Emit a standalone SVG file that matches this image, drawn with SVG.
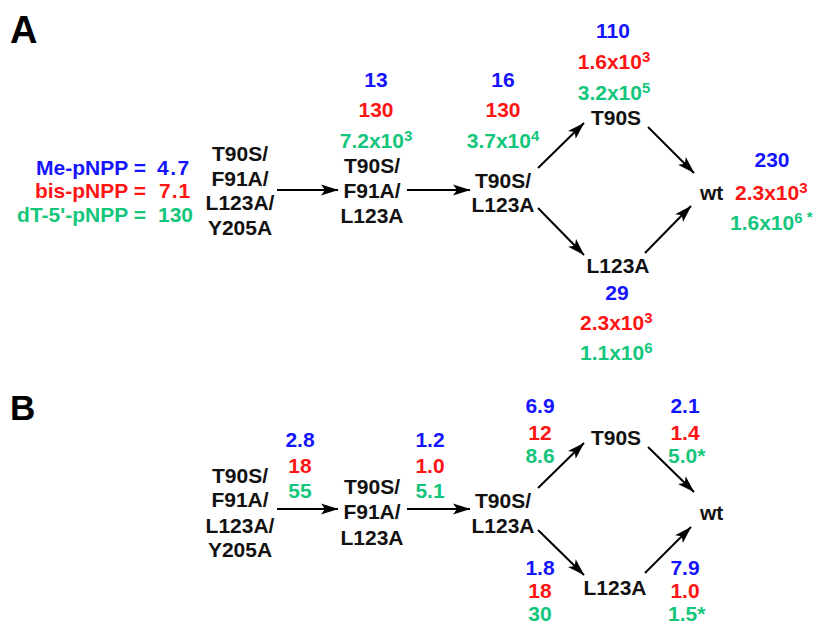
<svg xmlns="http://www.w3.org/2000/svg" width="815" height="625" viewBox="0 0 815 625">
<style>
text{font-family:"Liberation Sans",Arial,Helvetica,sans-serif;font-weight:bold;font-size:21px;fill:#111}
.m{text-anchor:middle}
.e{text-anchor:end}
.b{fill:#1414ff}
.r{fill:#ff1414}
.g{fill:#14c67c}
.sup{font-size:15px}
.lbl{font-size:38px;fill:#000}
.arr{stroke:#000;stroke-width:2;fill:none;marker-end:url(#ah)}
</style>
<defs>
<marker id="ah" markerUnits="userSpaceOnUse" viewBox="-18 -6 19 12" markerWidth="19" markerHeight="12" refX="0" refY="0" orient="auto">
<path d="M0.5,0 L-17,-5.5 L-13,0 L-17,5.5 Z" fill="#000"/>
</marker>
</defs>
<rect width="815" height="625" fill="#fff"/>

<g id="panelA-label"><text class="lbl" x="10" y="43">A</text></g>
<g id="panelB-label"><text class="lbl" x="10" y="420" style="font-size:35px">B</text></g>

<g id="legend">
<text class="b e" x="146" y="175">Me-pNPP =</text>
<text class="b" x="157" y="175" letter-spacing="1.5">4.7</text>
<text class="r e" x="146" y="198">bis-pNPP =</text>
<text class="r" x="159" y="198" letter-spacing="1">7.1</text>
<text class="g e" x="146" y="222">dT-5'-pNPP =</text>
<text class="g" x="158" y="222">130</text>
</g>

<!-- Panel A nodes -->
<g id="A-TFLY">
<text class="m" x="240" y="161">T90S/</text>
<text class="m" x="240" y="186">F91A/</text>
<text class="m" x="240" y="210">L123A/</text>
<text class="m" x="240" y="235">Y205A</text>
</g>
<g id="A-TFL">
<text class="b m" x="376" y="87">13</text>
<text class="r m" x="376" y="117">130</text>
<text class="g m" x="376" y="148">7.2x10<tspan class="sup" dy="-7">3</tspan></text>
<text class="m" x="372" y="173">T90S/</text>
<text class="m" x="372" y="198">F91A/</text>
<text class="m" x="372" y="223">L123A</text>
</g>
<g id="A-TL">
<text class="b m" x="503" y="87">16</text>
<text class="r m" x="503" y="117">130</text>
<text class="g m" x="503" y="148">3.7x10<tspan class="sup" dy="-7">4</tspan></text>
<text class="m" x="503" y="188">T90S/</text>
<text class="m" x="503" y="212">L123A</text>
</g>
<g id="A-T90S">
<text class="b m" x="613" y="38">110</text>
<text class="r m" x="614" y="69">1.6x10<tspan class="sup" dy="-7">3</tspan></text>
<text class="g m" x="614" y="100">3.2x10<tspan class="sup" dy="-7">5</tspan></text>
<text class="m" x="616" y="125">T90S</text>
</g>
<g id="A-L123A">
<text class="m" x="618" y="273">L123A</text>
<text class="b m" x="617" y="300">29</text>
<text class="r" x="580" y="330">2.3x10<tspan class="sup" dy="-7">3</tspan></text>
<text class="g" x="580" y="360">1.1x10<tspan class="sup" dy="-7">6</tspan></text>
</g>
<g id="A-wt">
<text x="700" y="200">wt</text>
<text class="b m" x="772" y="167">230</text>
<text class="r" x="735" y="200">2.3x10<tspan class="sup" dy="-7">3</tspan></text>
<text class="g" x="730" y="230">1.6x10<tspan class="sup" dy="-7">6</tspan><tspan class="sup" dy="-1"> *</tspan></text>
</g>

<!-- Panel B nodes -->
<g id="B-TFLY">
<text class="m" x="240" y="483">T90S/</text>
<text class="m" x="240" y="507">F91A/</text>
<text class="m" x="240" y="533">L123A/</text>
<text class="m" x="240" y="557">Y205A</text>
</g>
<g id="B-TFLY-values">
<text class="b m" x="300" y="447">2.8</text>
<text class="r m" x="300" y="473">18</text>
<text class="g m" x="300" y="498">55</text>
</g>
<g id="B-TFL">
<text class="m" x="372" y="494">T90S/</text>
<text class="m" x="372" y="519">F91A/</text>
<text class="m" x="372" y="545">L123A</text>
</g>
<g id="B-TFL-values">
<text class="b m" x="430" y="447">1.2</text>
<text class="r m" x="430" y="473">1.0</text>
<text class="g m" x="430" y="498">5.1</text>
</g>
<g id="B-TL">
<text class="m" x="503" y="508">T90S/</text>
<text class="m" x="503" y="533">L123A</text>
</g>
<g id="B-TL-up-values">
<text class="b m" x="540" y="413">6.9</text>
<text class="r m" x="540" y="440">12</text>
<text class="g m" x="540" y="463">8.6</text>
</g>
<g id="B-TL-down-values">
<text class="b m" x="540" y="575">1.8</text>
<text class="r m" x="540" y="598">18</text>
<text class="g m" x="540" y="621">30</text>
</g>
<g id="B-T90S">
<text class="m" x="616" y="445">T90S</text>
</g>
<g id="B-T90S-values">
<text class="b m" x="685" y="413">2.1</text>
<text class="r m" x="685" y="440">1.4</text>
<text class="g" x="668" y="463">5.0*</text>
</g>
<g id="B-L123A">
<text class="m" x="615" y="595">L123A</text>
</g>
<g id="B-L123A-values">
<text class="b m" x="685" y="575">7.9</text>
<text class="r m" x="685" y="598">1.0</text>
<text class="g" x="668" y="621">1.5*</text>
</g>
<g id="B-wt">
<text x="700" y="520">wt</text>
</g>

<g id="connectors">
<line class="arr" x1="277" y1="190" x2="338" y2="190"/>
<line class="arr" x1="407" y1="190" x2="470" y2="190"/>
<line class="arr" x1="538" y1="168" x2="584" y2="123"/>
<line class="arr" x1="648" y1="127" x2="694" y2="173"/>
<line class="arr" x1="538" y1="208" x2="584" y2="255"/>
<line class="arr" x1="645" y1="253" x2="691" y2="206"/>

<line class="arr" x1="277" y1="509" x2="338" y2="509"/>
<line class="arr" x1="407" y1="509" x2="470" y2="509"/>
<line class="arr" x1="538" y1="488" x2="584" y2="443"/>
<line class="arr" x1="648" y1="447" x2="694" y2="492"/>
<line class="arr" x1="538" y1="530" x2="584" y2="575"/>
<line class="arr" x1="645" y1="573" x2="691" y2="527"/>
</g>
</svg>
